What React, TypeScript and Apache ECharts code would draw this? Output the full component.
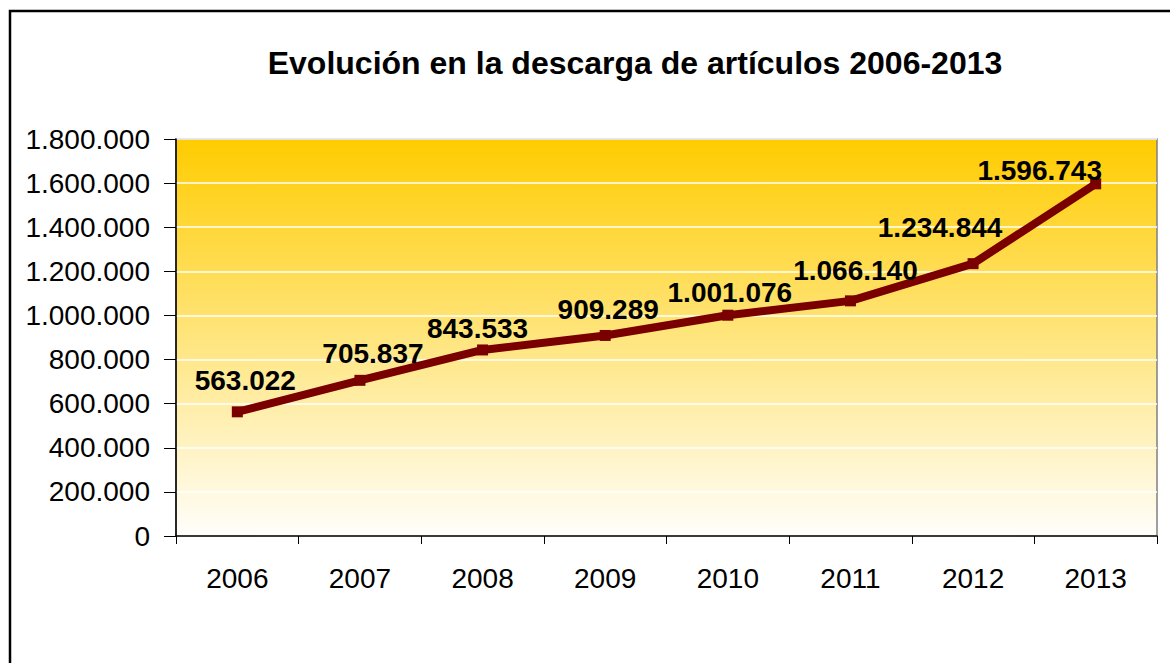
import React, { useEffect, useRef } from "react";
import * as echarts from "echarts";

const years = ["2006", "2007", "2008", "2009", "2010", "2011", "2012", "2013"];
const downloads = [563022, 705837, 843533, 909289, 1001076, 1066140, 1234844, 1596743];
const labelOffsets: [number, number][] = [
  [8, -31], [13, -27], [-5, -21], [3, -26], [2, -23], [5, -30], [-33, -36], [-56, -13],
];
const titleText = "Evolución en la descarga de artículos 2006-2013";

function fmt(v: number): string {
  return String(Math.round(v)).replace(/\B(?=(\d{3})+(?!\d))/g, ".");
}

export default function App() {
  const ref = useRef<HTMLDivElement>(null);
  useEffect(() => {
    document.body.style.margin = "0";
    const chart = echarts.init(ref.current!, null, { renderer: "svg" });
    chart.setOption({
      animation: false,
      backgroundColor: "#ffffff",
      title: {
        text: titleText,
        left: 630,
        top: 58,
        textAlign: "center",
        textVerticalAlign: "middle",
        textStyle: { fontFamily: "Liberation Sans, Arial", fontWeight: "bold", fontSize: 32, color: "#000" },
      },
      graphic: [
        {
          type: "rect",
          shape: { x: 10, y: 11, width: 1300, height: 800 },
          style: { fill: "none", stroke: "#000", lineWidth: 2.5 },
          silent: true,
          z: 100,
        },
      ],
      grid: {
        left: 176,
        top: 139,
        right: 13,
        bottom: 127,
        show: true,
        borderColor: "#808080",
        borderWidth: 1.5,
        backgroundColor: new echarts.graphic.LinearGradient(0, 0, 0, 1, [
          { offset: 0, color: "#FFCC00" },
          { offset: 1, color: "#FFFEFB" },
        ]),
      },
      xAxis: {
        type: "category",
        data: years,
        boundaryGap: true,
        axisLine: { lineStyle: { color: "#000", width: 1.5 } },
        axisTick: { show: true, length: 8, lineStyle: { color: "#000", width: 1 } },
        axisLabel: { margin: 28, fontFamily: "Liberation Sans, Arial", fontSize: 28, color: "#000" },
      },
      yAxis: {
        type: "value",
        min: 0,
        max: 1800000,
        interval: 200000,
        axisLine: { show: true, lineStyle: { color: "#000", width: 1.5 } },
        axisTick: { show: true, length: 12, lineStyle: { color: "#000", width: 1 } },
        splitLine: { lineStyle: { color: "#ffffff", width: 1.5 } },
        axisLabel: {
          margin: 26,
          fontFamily: "Liberation Sans, Arial",
          fontSize: 28,
          color: "#000",
          formatter: (v: number) => fmt(v),
        },
      },
      series: [
        {
          type: "line",
          data: downloads.map((v, i) => ({
            value: v,
            label: { offset: labelOffsets[i] },
          })),
          lineStyle: { color: "#7A0000", width: 8 },
          itemStyle: { color: "#7A0000" },
          symbol: "rect",
          symbolSize: 11,
          showAllSymbol: true,
          label: {
            show: true,
            position: "inside",
            align: "center",
            verticalAlign: "middle",
            fontFamily: "Liberation Sans, Arial",
            fontWeight: "bold",
            fontSize: 28,
            color: "#000",
            formatter: (p: any) => fmt(p.value),
          },
          z: 3,
        },
      ],
    });
    return () => chart.dispose();
  }, []);
  return <div ref={ref} style={{ width: 1170, height: 663 }} />;
}
